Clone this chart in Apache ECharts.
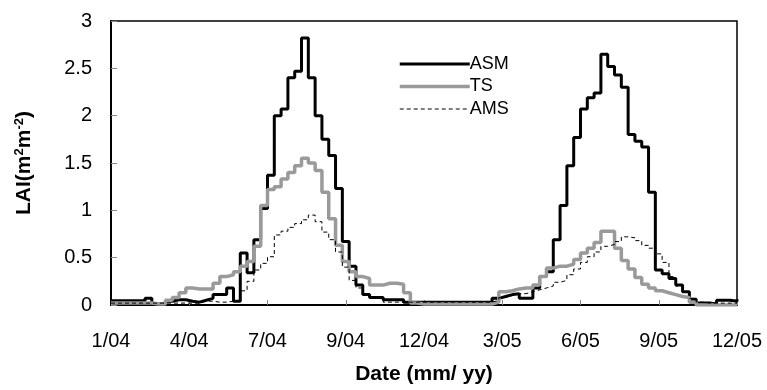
<!DOCTYPE html>
<html>
<head>
<meta charset="utf-8">
<script src="https://cdn.jsdelivr.net/npm/echarts@6/dist/echarts.min.js"></script>
<style>
html,body{margin:0;padding:0;background:#fff;}
#chart{width:767px;height:390px;}
</style>
</head>
<body>
<div id="chart"></div>
<script>
// Tick labels of the date axis (one every 11.5 composite periods)
const xLabels = ['1/04','4/04','7/04','9/04','12/04','3/05','6/05','9/05','12/05'];
const seriesNames = ['ASM','TS','AMS'];

// LAI values per 8-day period (index 0..92)
const asm = [
  0.045,0.045,0.045,0.045,0.045,0.07,0.01,0.01,0.04,0.055,
  0.055,0.04,0.03,0.05,0.07,0.11,0.11,0.18,0.04,0.55,
  0.34,0.69,1.02,1.37,2.0,2.07,2.40,2.47,2.82,2.40,
  2.0,1.75,1.58,1.23,0.67,0.41,0.21,0.11,0.08,0.08,
  0.055,0.055,0.055,0.03,0.03,0.03,0.03,0.03,0.03,0.03,
  0.03,0.03,0.03,0.03,0.03,0.03,0.07,0.09,0.11,0.12,
  0.07,0.07,0.18,0.30,0.35,0.69,1.05,1.47,1.77,2.07,
  2.19,2.24,2.65,2.52,2.43,2.30,1.80,1.73,1.67,1.19,
  0.37,0.33,0.28,0.21,0.14,0.06,0.02,0.02,0.01,0.05,
  0.05,0.04,0.06
];
const ts = [
  0.02,0.02,0.02,0.02,0.02,0.02,0.01,0.01,0.05,0.08,
  0.13,0.18,0.17,0.17,0.17,0.23,0.30,0.32,0.35,0.41,
  0.46,0.62,1.05,1.22,1.25,1.33,1.40,1.47,1.55,1.50,
  1.42,1.19,0.91,0.63,0.46,0.35,0.30,0.28,0.21,0.21,
  0.23,0.23,0.22,0.13,0.02,0.01,0.01,0.01,0.01,0.01,
  0.01,0.01,0.01,0.01,0.01,0.01,0.03,0.14,0.15,0.17,
  0.18,0.18,0.21,0.30,0.39,0.41,0.41,0.43,0.48,0.55,
  0.60,0.66,0.78,0.78,0.60,0.47,0.38,0.29,0.22,0.18,
  0.15,0.13,0.11,0.09,0.08,0.03,0.0,0.0,0.0,0.0,
  0.0,0.0,0.0
];
const ams = [
  0.02,0.02,0.02,0.02,0.02,0.02,0.02,0.02,0.02,0.02,
  0.02,0.02,0.02,0.04,0.04,0.03,0.03,0.04,0.05,0.15,
  0.25,0.37,0.44,0.51,0.74,0.78,0.82,0.86,0.90,0.95,
  0.88,0.77,0.69,0.56,0.40,0.26,0.18,0.12,0.08,0.06,
  0.03,0.03,0.03,0.03,0.03,0.03,0.03,0.03,0.03,0.03,
  0.03,0.03,0.03,0.03,0.03,0.03,0.05,0.08,0.10,0.12,
  0.12,0.14,0.16,0.18,0.20,0.24,0.26,0.32,0.38,0.45,
  0.51,0.56,0.62,0.64,0.67,0.72,0.71,0.68,0.63,0.60,
  0.54,0.45,0.30,0.20,0.14,0.07,0.03,0.02,0.02,0.02,
  0.02,0.02,0.02
];

const FONT = 'Liberation Sans, Arial, sans-serif';
const COLORS = ['#000000', '#9a9a9a', '#000000'];
const WIDTHS = [3, 3.5, 1];
const DASHES = ['solid', 'solid', [4, 3]];
const toPairs = arr => arr.map((v, i) => [i, v]);
const nPeriods = asm.length - 1;
const labelStep = nPeriods / (xLabels.length - 1);
const values = [asm, ts, ams];

const chart = echarts.init(document.getElementById('chart'), null, {renderer: 'canvas'});
chart.setOption({
  animation: false,
  backgroundColor: '#ffffff',
  textStyle: {fontFamily: FONT, color: '#000'},
  grid: {left: 111, right: 30, top: 21, bottom: 83, show: true, borderColor: '#000', borderWidth: 1.5, backgroundColor: 'transparent'},
  legend: {
    orient: 'vertical', left: 393, top: 50,
    itemWidth: 70, itemHeight: 16, itemGap: 4.5,
    data: seriesNames.map((n, k) => ({
      name: n,
      lineStyle: {color: COLORS[k], width: WIDTHS[k], type: DASHES[k]}
    })),
    itemStyle: {opacity: 0},
    textStyle: {fontFamily: FONT, fontSize: 18, color: '#000', padding: [0,0,0,-5]}
  },
  xAxis: {
    type: 'value', min: 0, max: nPeriods, interval: labelStep,
    name: 'Date (mm/ yy)', nameLocation: 'middle', nameGap: 59,
    nameTextStyle: {fontFamily: FONT, fontSize: 21, fontWeight: 'bold', color: '#000'},
    axisLine: {lineStyle: {color: '#000', width: 2}},
    axisTick: {inside: true, length: 5, lineStyle: {color: '#888', width: 1}},
    splitLine: {show: false},
    axisLabel: {
      fontFamily: FONT, fontSize: 20, color: '#000', margin: 26,
      formatter: v => xLabels[Math.round(v / labelStep)] || ''
    }
  },
  yAxis: {
    type: 'value', min: 0, max: 3, interval: 0.5,
    name: '{b|LAI(m}{s|2}{b|m}{s|-2}{b|)}', nameLocation: 'middle', nameGap: 75,
    nameTextStyle: {
      rich: {
        b: {fontFamily: FONT, fontSize: 21, fontWeight: 'bold', color: '#000'},
        s: {fontFamily: FONT, fontSize: 13, fontWeight: 'bold', color: '#000', padding: [0,0,10,0]}
      }
    },
    axisLine: {show: true, lineStyle: {color: '#000', width: 2}},
    axisTick: {show: true, inside: true, length: 6, lineStyle: {color: '#888', width: 1}},
    splitLine: {show: false},
    axisLabel: {fontFamily: FONT, fontSize: 20, color: '#000', margin: 19}
  },
  series: seriesNames.map((n, k) => ({
    name: n, type: 'line', step: 'end', data: toPairs(values[k]),
    showSymbol: false, symbol: 'none',
    lineStyle: {color: COLORS[k], width: WIDTHS[k], type: DASHES[k]},
    itemStyle: {color: COLORS[k]}
  }))
});
</script>
</body>
</html>
